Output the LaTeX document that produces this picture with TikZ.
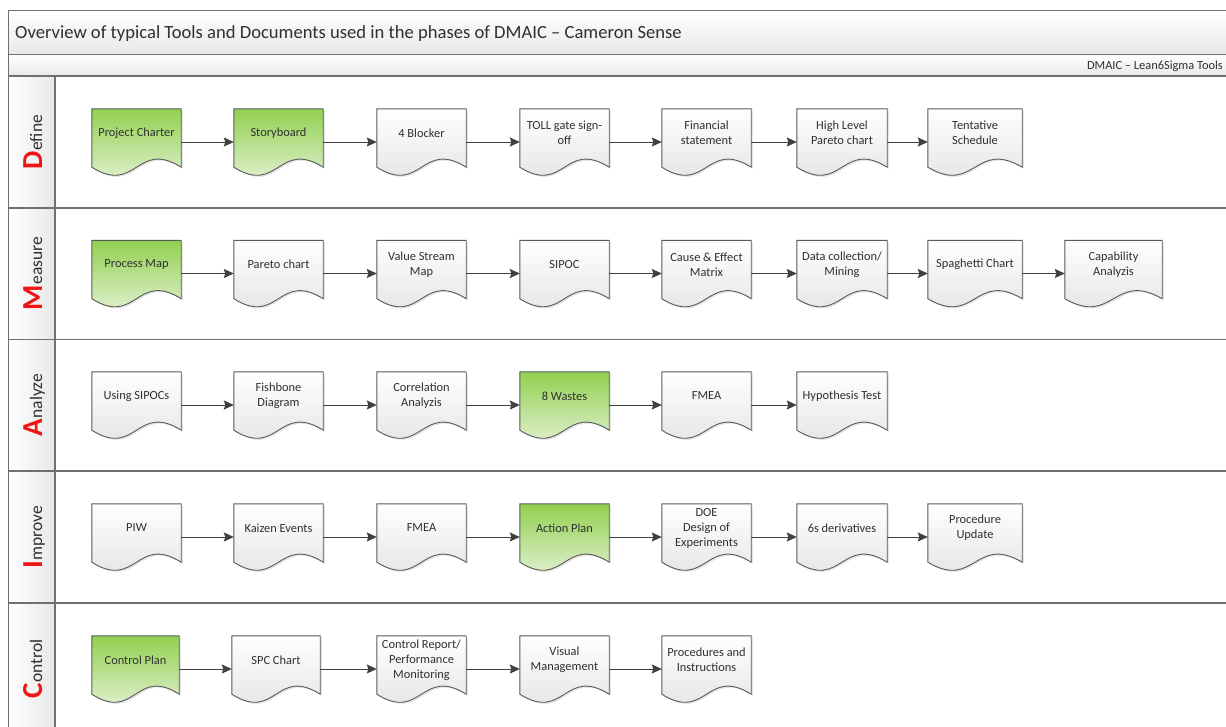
\documentclass[tikz,border=0pt]{standalone}
\usepackage{fontspec}
\setmainfont{Carlito}
\usetikzlibrary{arrows.meta,calc}

\definecolor{framegray}{HTML}{707070}
\definecolor{edgegray}{HTML}{5A5A5A}
\definecolor{inkgray}{HTML}{303030}
\definecolor{docgreen}{HTML}{92D050}
\definecolor{docgreenlight}{HTML}{F0F7E9}
\definecolor{docwhitebot}{HTML}{E0E0E0}
\definecolor{phasered}{HTML}{F01414}
\definecolor{bandgray}{HTML}{E8E8E8}

\tikzset{
  docbase/.style={rectangle, inner sep=0pt, minimum height=66pt},
  greendoc/.style={top color=docgreen, bottom color=docgreenlight},
  whitedoc/.style={top color=white, bottom color=docwhitebot},
  docline/.style={draw=edgegray, line width=0.9pt},
  doctext/.style={font=\fontsize{12.4}{15}\selectfont, text=inkgray, align=center, inner sep=0pt},
  flow/.style={draw=black!75, line width=1pt, -{Stealth[length=10pt,width=9pt,inset=1.5pt]}},
  frameline/.style={draw=framegray, line width=1.2pt},
  phase/.style={rotate=90, anchor=base, text=inkgray, font=\fontsize{17.5}{20}\selectfont, inner sep=0pt},
}

% document symbol: straight sides, wavy bottom edge
% #1 name, #2 left x, #3 lane centre y, #4 width, #5 fill style, #6 text
\newcommand\docsym[6]{%
  \node[docbase, minimum width=#4pt] (#1) at (#2+#4/2, #3) {};
  \begin{scope}[transform canvas={shift={(1.6pt,-1.6pt)}}]
    \fill[black, opacity=0.10] (#1.north west) -- (#1.north east) -- ($(#1.south east)+(0,-8)$)
      .. controls ($(#1.south)+(0,-36)$) and ($(#1.south)+(0,20)$) .. ($(#1.south west)+(0,-8)$) -- cycle;
  \end{scope}
  \path[#5, docline] (#1.north west) -- (#1.north east) -- ($(#1.south east)+(0,-8)$)
      .. controls ($(#1.south)+(0,-36)$) and ($(#1.south)+(0,20)$) .. ($(#1.south west)+(0,-8)$) -- cycle;
  \node[doctext] (#1-t) at ($(#1.center)+(0,-9)$) {#6};
}

\newcommand\phaseinitial[1]{{\fontsize{29}{30}\selectfont\bfseries\color{phasered}#1}}

\begin{document}
\begin{tikzpicture}[x=1pt, y=-1pt]
  \useasboundingbox (0,0) rectangle (1226,726);
  \clip (0,0) rectangle (1226,726);
  \fill[white] (0,0) rectangle (1226,726);

  % header bands
  \shade[top color=white, bottom color=bandgray] (8.5,10.5) rectangle (1240,54.5);
  \shade[top color=white, bottom color=bandgray] (8.5,54.5) rectangle (1240,76);
  % phase label column
  \shade[left color=white, right color=bandgray] (8.5,76) rectangle (55,740);

  % frame and lane dividers
  \draw[frameline] (1240,10.5) -- (8.5,10.5) -- (8.5,740);
  \draw[frameline] (8.5,54.5) -- (1240,54.5);
  \draw[frameline] (8.5,76) -- (1240,76);
  \draw[frameline] (8.5,208) -- (1240,208);
  \draw[frameline] (8.5,339.5) -- (1240,339.5);
  \draw[frameline] (8.5,471) -- (1240,471);
  \draw[frameline] (8.5,603) -- (1240,603);
  \draw[frameline] (55,76) -- (55,740);

  % headings
  \node[anchor=base west, inner sep=0pt, font=\fontsize{18.6}{20}\selectfont, text=inkgray] (title) at (15,38.5)
    {Overview of typical Tools and Documents used in the phases of DMAIC – Cameron Sense};
  \node[anchor=base east, inner sep=0pt, font=\fontsize{12.4}{15}\selectfont, text=inkgray] (subtitle) at (1223,69)
    {DMAIC – Lean6Sigma Tools};

  % phase names
  \node[phase] (phD) at (42,142) {\phaseinitial{D}efine};
  \node[phase] (phM) at (42,273.5) {\phaseinitial{M}easure};
  \node[phase] (phA) at (42,405) {\phaseinitial{A}nalyze};
  \node[phase] (phI) at (42,537) {\phaseinitial{I}mprove};
  \node[phase] (phC) at (42,669) {\phaseinitial{C}ontrol};

  % Define
  \docsym{d1}{92}{142}{89}{greendoc}{Project Charter}
  \docsym{d2}{234}{142}{89}{greendoc}{Storyboard}
  \docsym{d3}{377}{142}{89}{whitedoc}{4 Blocker}
  \docsym{d4}{520}{142}{89}{whitedoc}{TOLL gate sign-\\off}
  \docsym{d5}{662}{142}{89}{whitedoc}{Financial\\statement}
  \docsym{d6}{797}{142}{90}{whitedoc}{High Level\\Pareto chart}
  \docsym{d7}{928}{142}{94}{whitedoc}{Tentative\\Schedule}
  \foreach \a/\b in {d1/d2,d2/d3,d3/d4,d4/d5,d5/d6,d6/d7}
    \draw[flow] (\a.east) -- (\b.west);

  % Measure
  \docsym{m1}{92}{273.5}{89}{greendoc}{Process Map}
  \docsym{m2}{234}{273.5}{89}{whitedoc}{Pareto chart}
  \docsym{m3}{377}{273.5}{89}{whitedoc}{Value Stream\\Map}
  \docsym{m4}{520}{273.5}{89}{whitedoc}{SIPOC}
  \docsym{m5}{662}{273.5}{89}{whitedoc}{Cause \& Effect\\Matrix}
  \docsym{m6}{797}{273.5}{90}{whitedoc}{Data collection/\\Mining}
  \docsym{m7}{928}{273.5}{94}{whitedoc}{Spaghetti Chart}
  \docsym{m8}{1065}{273.5}{97}{whitedoc}{Capability\\Analyzis}
  \foreach \a/\b in {m1/m2,m2/m3,m3/m4,m4/m5,m5/m6,m6/m7,m7/m8}
    \draw[flow] (\a.east) -- (\b.west);

  % Analyze
  \docsym{a1}{92}{405}{89}{whitedoc}{Using SIPOCs}
  \docsym{a2}{234}{405}{89}{whitedoc}{Fishbone\\Diagram}
  \docsym{a3}{377}{405}{89}{whitedoc}{Correlation\\Analyzis}
  \docsym{a4}{520}{405}{89}{greendoc}{8 Wastes}
  \docsym{a5}{662}{405}{89}{whitedoc}{FMEA}
  \docsym{a6}{797}{405}{90}{whitedoc}{Hypothesis Test}
  \foreach \a/\b in {a1/a2,a2/a3,a3/a4,a4/a5,a5/a6}
    \draw[flow] (\a.east) -- (\b.west);

  % Improve
  \docsym{i1}{92}{537}{89}{whitedoc}{PIW}
  \docsym{i2}{234}{537}{89}{whitedoc}{Kaizen Events}
  \docsym{i3}{377}{537}{89}{whitedoc}{FMEA}
  \docsym{i4}{520}{537}{89}{greendoc}{Action Plan}
  \docsym{i5}{662}{537}{89}{whitedoc}{DOE\\Design of\\Experiments}
  \docsym{i6}{797}{537}{90}{whitedoc}{6s derivatives}
  \docsym{i7}{928}{537}{94}{whitedoc}{Procedure\\Update}
  \foreach \a/\b in {i1/i2,i2/i3,i3/i4,i4/i5,i5/i6,i6/i7}
    \draw[flow] (\a.east) -- (\b.west);

  % Control
  \docsym{c1}{92}{669}{87}{greendoc}{Control Plan}
  \docsym{c2}{232}{669}{88}{whitedoc}{SPC Chart}
  \docsym{c3}{377}{669}{89}{whitedoc}{Control Report/\\Performance\\Monitoring}
  \docsym{c4}{520}{669}{89}{whitedoc}{Visual\\Management}
  \docsym{c5}{662}{669}{89}{whitedoc}{Procedures and\\Instructions}
  \foreach \a/\b in {c1/c2,c2/c3,c3/c4,c4/c5}
    \draw[flow] (\a.east) -- (\b.west);
\end{tikzpicture}
\end{document}
